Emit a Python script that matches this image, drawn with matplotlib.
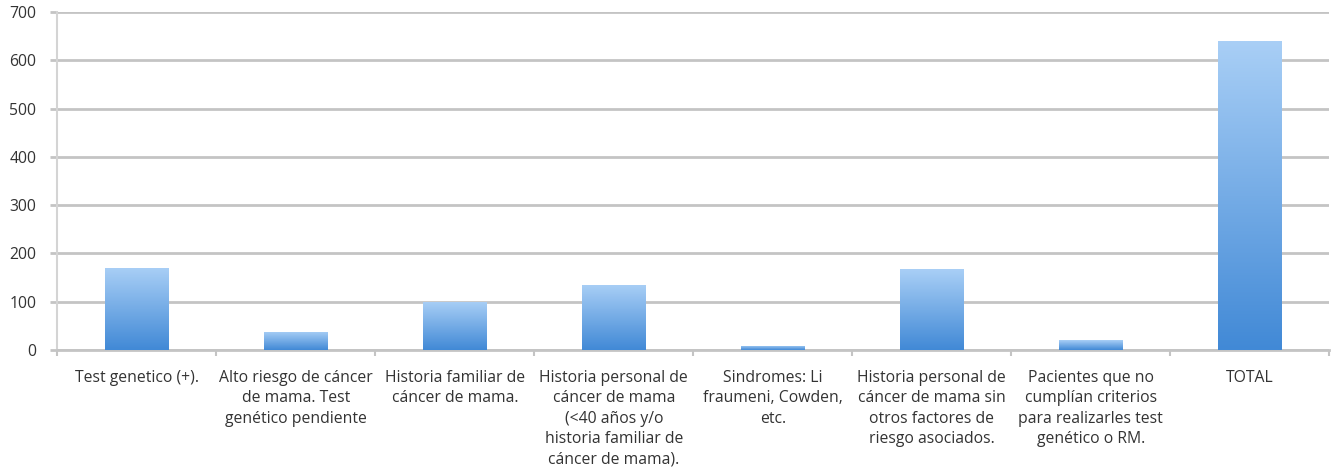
import matplotlib.pyplot as plt
import numpy as np
from matplotlib.colors import LinearSegmentedColormap

plt.rcParams['font.family'] = ['Open Sans', 'DejaVu Sans']

categories = [
    "Test genetico (+).",
    "Alto riesgo de cáncer\nde mama. Test\ngenético pendiente",
    "Historia familiar de\ncáncer de mama.",
    "Historia personal de\ncáncer de mama\n(<40 años y/o\nhistoria familiar de\ncáncer de mama).",
    "Sindromes: Li\nfraumeni, Cowden,\netc.",
    "Historia personal de\ncáncer de mama sin\notros factores de\nriesgo asociados.",
    "Pacientes que no\ncumplían criterios\npara realizarles test\ngenético o RM.",
    "TOTAL",
]
patients = [170, 38, 100, 135, 9, 167, 20, 639]
y_ticks = [0, 100, 200, 300, 400, 500, 600, 700]

fig = plt.figure(figsize=(13.32, 4.75), dpi=100)
ax = fig.add_axes([0.043, 0.263, 0.955, 0.712])

x = np.arange(len(categories))
bars = ax.bar(x, patients, width=0.4, color='none', edgecolor='none', zorder=3)

# vertical blue gradient, light at the top, darker at the base
grad_cmap = LinearSegmentedColormap.from_list('bar_grad', ['#4189d6', '#a9cff6'])
grad = np.linspace(0, 1, 256).reshape(-1, 1)
for b in bars:
    x0, y0 = b.get_x(), b.get_y()
    w, h = b.get_width(), b.get_height()
    im = ax.imshow(grad, cmap=grad_cmap, aspect='auto', origin='lower',
                   extent=[x0, x0 + w, y0, y0 + h], zorder=3)
    im.set_clip_path(b)

ax.set_xlim(-0.5, len(categories) - 0.5)
ax.set_ylim(0, 700)
ax.set_yticks(y_ticks)
ax.yaxis.grid(True, color='#c4c4c4', linewidth=2, zorder=0)
ax.set_axisbelow(True)

ax.set_xticks(x)
ax.set_xticklabels(categories, fontsize=11.3, color='#333333', linespacing=1.38,
                   va='top')
ax.set_xticks(np.arange(len(categories) + 1) - 0.5, minor=True)
ax.tick_params(axis='x', which='major', length=0, pad=14)
ax.tick_params(axis='x', which='minor', length=4, color='#c4c4c4', width=1.5)
ax.tick_params(axis='y', length=5, color='#c4c4c4', width=2,
               labelsize=11.3, labelcolor='#333333', pad=10)

for side in ['top', 'right']:
    ax.spines[side].set_visible(False)
ax.spines['left'].set_color('#d4d4d4')
ax.spines['left'].set_linewidth(1.5)
ax.spines['bottom'].set_color('#c4c4c4')
ax.spines['bottom'].set_linewidth(2)

fig.savefig('out.png', dpi=100)
plt.close(fig)
